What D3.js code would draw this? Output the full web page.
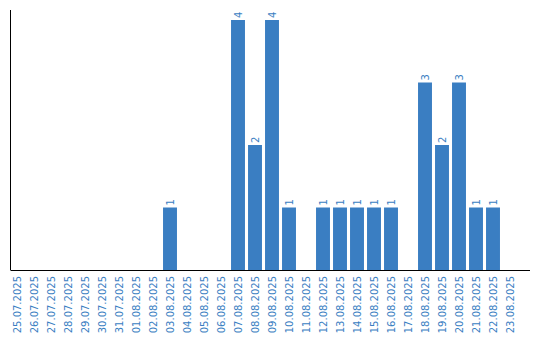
<!DOCTYPE html>
<html>
<head>
<meta charset="utf-8">
<script src="https://cdn.jsdelivr.net/npm/d3@7"></script>
<style>
  body { margin: 0; background: #fff; }
  text { font-family: "DejaVu Sans", sans-serif; font-size: 10px; fill: #3a7ec2; }
</style>
</head>
<body>
<div id="chart"></div>
<script>
const dates = ["25.07.2025", "26.07.2025", "27.07.2025", "28.07.2025", "29.07.2025",
  "30.07.2025", "31.07.2025", "01.08.2025", "02.08.2025", "03.08.2025",
  "04.08.2025", "05.08.2025", "06.08.2025", "07.08.2025", "08.08.2025",
  "09.08.2025", "10.08.2025", "11.08.2025", "12.08.2025", "13.08.2025",
  "14.08.2025", "15.08.2025", "16.08.2025", "17.08.2025", "18.08.2025",
  "19.08.2025", "20.08.2025", "21.08.2025", "22.08.2025", "23.08.2025"];
const counts = [0, 0, 0, 0, 0, 0, 0, 0, 0, 1,
  0, 0, 0, 4, 2, 4, 1, 0, 1, 1,
  1, 1, 1, 0, 3, 2, 3, 1, 1, 0];

const width = 540, height = 340;
const margin = { top: 10, right: 10, bottom: 70, left: 10.5 };
const barColor = "#3a7ec2";

const svg = d3.select("#chart").append("svg")
  .attr("width", width)
  .attr("height", height);

const x = d3.scaleBand()
  .domain(dates)
  .range([8.5, 518.5])
  .paddingInner(0.18)
  .paddingOuter(0.09);

const y = d3.scaleLinear()
  .domain([0, d3.max(counts) * 1.04])
  .range([height - margin.bottom, margin.top]);

const data = dates.map((d, i) => ({ date: d, value: counts[i] }));

// bars
svg.append("g")
  .selectAll("rect")
  .data(data.filter(d => d.value > 0))
  .enter().append("rect")
  .attr("x", d => x(d.date))
  .attr("y", d => y(d.value))
  .attr("width", x.bandwidth())
  .attr("height", d => y(0) - y(d.value))
  .attr("fill", barColor);

// value labels
svg.append("g")
  .selectAll("text")
  .data(data.filter(d => d.value > 0))
  .enter().append("text")
  .attr("transform", d => `translate(${x(d.date) + x.bandwidth() / 2 + 3.5},${y(d.value) - 2}) rotate(-90)`)
  .attr("text-anchor", "start")
  .text(d => d.value);

// axes lines
svg.append("line")
  .attr("x1", margin.left).attr("x2", margin.left)
  .attr("y1", margin.top).attr("y2", y(0))
  .attr("stroke", "#000");
svg.append("line")
  .attr("x1", margin.left).attr("x2", width - margin.right)
  .attr("y1", y(0) + 0.5).attr("y2", y(0) + 0.5)
  .attr("stroke", "#000");

// date labels
svg.append("g")
  .selectAll("text")
  .data(dates)
  .enter().append("text")
  .attr("transform", d => `translate(${x(d) + x.bandwidth() / 2 + 3.5},${y(0) + 6}) rotate(-90)`)
  .attr("text-anchor", "end")
  .text(d => d);
</script>
</body>
</html>
